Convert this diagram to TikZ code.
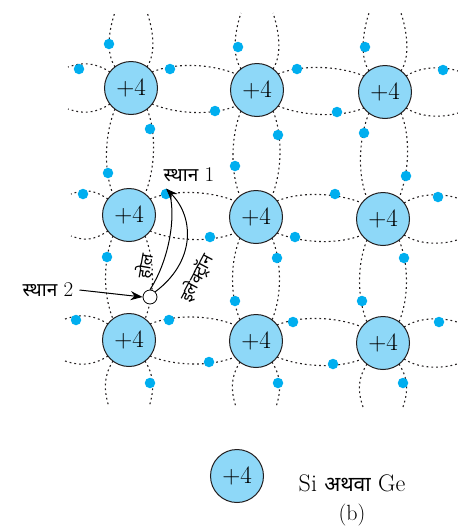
\documentclass[tikz,border=0pt]{standalone}
\usepackage{fontspec}
\usetikzlibrary{calc,arrows.meta}
\newfontfamily\deva[Script=Devanagari]{Noto Sans}
\definecolor{atomfill}{HTML}{8ED8F8}
\definecolor{elec}{HTML}{00AEEF}
\definecolor{lineg}{HTML}{231F20}
\tikzset{
 atom/.style={circle, draw=lineg, line width=1pt, fill=atomfill, minimum size=53pt, inner sep=0pt, font=\fontsize{25}{25}\selectfont},
 elc/.style={circle, fill=elec, minimum size=10.5pt, inner sep=0pt},
 holec/.style={circle, draw=black, fill=white, line width=0.8pt, minimum size=14pt, inner sep=0pt},
 bond/.style={draw=lineg, line width=1.1pt, dash pattern=on 1.8pt off 3pt},
 lbl/.style={font=\fontsize{21}{21}\selectfont, inner sep=0pt},
 rlbl/.style={font=\deva\fontsize{17}{17}\selectfont, inner sep=0pt},
 arr/.style={line width=1pt, -{Stealth[length=12pt,width=9pt]}},
 plain/.style={line width=1pt},
}
\newcommand\hbond[2]{%
 \draw[bond] ($(#1)+(21,-16)$) .. controls ($(#1)+(45,-26)$) and ($(#2)+(-45,-26)$) .. ($(#2)+(-21,-16)$);
 \draw[bond] ($(#1)+(21,16)$) .. controls ($(#1)+(45,26)$) and ($(#2)+(-45,26)$) .. ($(#2)+(-21,16)$);}
\newcommand\vbond[2]{%
 \draw[bond] ($(#1)+(-16,21)$) .. controls ($(#1)+(-26,45)$) and ($(#2)+(-26,-45)$) .. ($(#2)+(-16,-21)$);
 \draw[bond] ($(#1)+(16,21)$) .. controls ($(#1)+(26,45)$) and ($(#2)+(26,-45)$) .. ($(#2)+(16,-21)$);}
\newcommand\obond[4]{%
 \begin{scope}[shift={(#1)}, rotate=#2]
 \draw[bond] (21,16) .. controls (38,27) and ({#3-12},{#4+4}) .. (#3,#4);
 \draw[bond] (21,-16) .. controls (38,-27) and ({#3-12},{-#4-4}) .. (#3,-#4);
 \end{scope}}
\begin{document}
\begin{tikzpicture}[x=1pt,y=-1pt]
\useasboundingbox (0,0) rectangle (458,528);
% atoms
\node[atom] (a11) at (131,88) {+4};
\node[atom] (a12) at (257,90) {+4};
\node[atom] (a13) at (385,92) {+4};
\node[atom] (a21) at (129,215) {+4};
\node[atom] (a22) at (256,217) {+4};
\node[atom] (a23) at (383,219) {+4};
\node[atom] (a31) at (129,340) {+4};
\node[atom] (a32) at (256,341) {+4};
\node[atom] (a33) at (383,343) {+4};
% interior bonds
\hbond{a11}{a12}\hbond{a12}{a13}
\hbond{a21}{a22}\hbond{a22}{a23}
\hbond{a31}{a32}\hbond{a32}{a33}
\vbond{a11}{a21}\vbond{a21}{a31}
\vbond{a12}{a22}\vbond{a22}{a32}
\vbond{a13}{a23}\vbond{a23}{a33}
% outer bonds
\obond{a11}{90}{76}{16}\obond{a12}{90}{77}{16}\obond{a13}{90}{79}{16}
\obond{a11}{180}{63}{21}\obond{a21}{180}{58}{21}\obond{a31}{180}{64}{21}
\obond{a13}{0}{73}{21}\obond{a23}{0}{74}{21}\obond{a33}{0}{74}{21}
\obond{a31}{270}{67}{20}\obond{a32}{270}{66}{20}\obond{a33}{270}{64}{20}
% electrons
\foreach \p [count=\i] in {(109,44),(79,69),(170,69),(215,111),(150,129),(108,173),
  (238,47),(297,69),(337,112),(278,135),(235,166),(365,47),(443,70),(364,133),(406,176),
  (83,194),(210,237),(107,257),(335,194),(295,237),(277,258),(235,301),(438,197),(404,258),(362,301),
  (76,320),(169,320),(209,362),(150,383),(293,322),(333,364),(278,383),(439,322),(403,383)}
  \node[elc] (el\i) at \p {};
\node[elc] (e1) at (166,194) {};
\node[holec] (h) at (150,297) {};
% arrows
\draw[plain] (h.north) .. controls (168,262) and (176,220) .. ($(e1)+(4,1)$);
\draw[arr] (h.north east) .. controls (195,262) and (195,218) .. (e1.north);
\node[lbl] (s1) at (189,175) {{\deva\fontsize{19}{19}\selectfont स्थान} 1};
\node[lbl] (s2) at (48,290) {{\deva\fontsize{19}{19}\selectfont स्थान} 2};
\draw[arr] ($(s2.east)+(6,0)$) -- (h.west);
\node[rlbl, rotate=80] (hl) at (145,266) {होल};
\node[rlbl, rotate=62] (et) at (197,278) {इलेक्ट्रॉन};
% legend
\node[atom] (leg) at (237,476) {+4};
\node[font=\fontsize{24}{24}\selectfont, inner sep=0pt] (lt) at (352,483) {Si {\deva\fontsize{21}{22}\selectfont अथवा} Ge};
\node[font=\fontsize{22}{22}\selectfont, inner sep=0pt] (cap) at (352,515) {(b)};
\end{tikzpicture}
\end{document}
